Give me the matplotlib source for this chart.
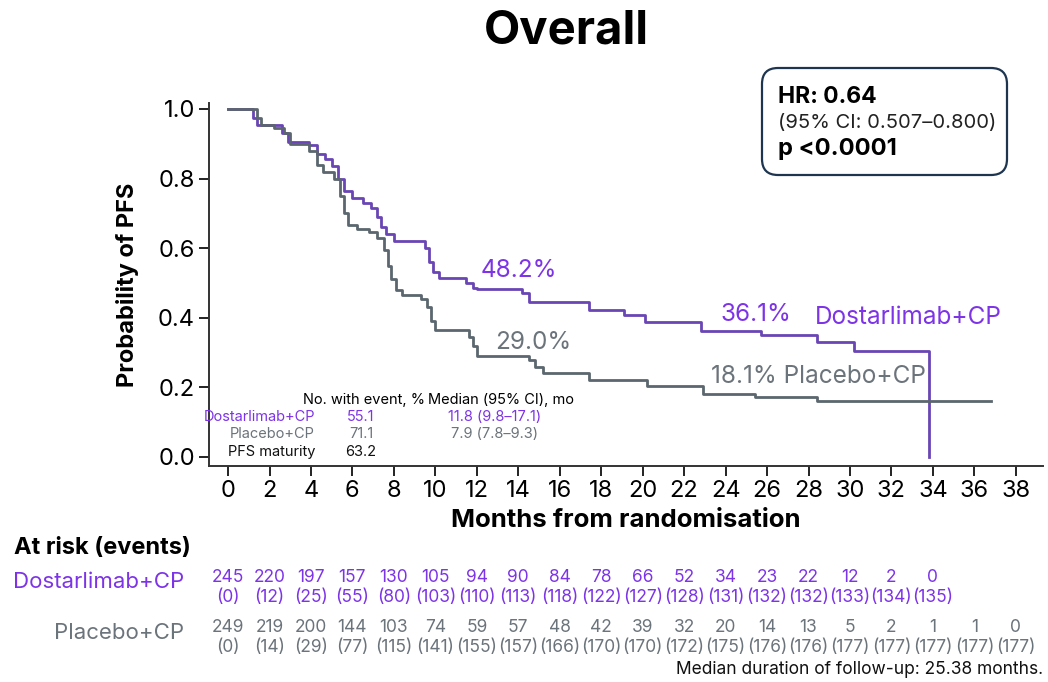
"""Kaplan-Meier PFS plot, overall population."""
import matplotlib.pyplot as plt
import matplotlib.transforms as mtransforms
from matplotlib.patches import FancyBboxPatch

plt.rcParams["font.family"] = ["Inter", "DejaVu Sans"]

PURPLE_TXT = "#7d34e6"
PURPLE_LINE = "#6a45b4"
GRAY_TXT = "#6b737b"
GRAY_LINE = "#5b666e"

# Kaplan-Meier step points (month, survival)
dostar_t = [0, 1.2, 1.4, 2.6, 2.9, 3.9, 4.3, 4.7, 5.0, 5.3, 5.6, 6.0, 6.5, 6.9, 7.2, 7.4, 7.6,
            8.0, 9.5, 9.7, 9.9, 10.2, 11.5, 11.8, 12.0, 14.2, 14.5, 17.4, 19.1, 20.1, 22.8,
            25.7, 28.4, 30.2, 33.8]
dostar_s = [1.0, 0.975, 0.955, 0.93, 0.905, 0.895, 0.87, 0.855, 0.835, 0.80, 0.765, 0.745,
            0.73, 0.715, 0.69, 0.66, 0.64, 0.62, 0.60, 0.56, 0.53, 0.515, 0.50, 0.486, 0.482,
            0.47, 0.446, 0.422, 0.408, 0.388, 0.361, 0.350, 0.331, 0.305, 0.0]
placebo_t = [0, 1.4, 1.6, 2.2, 2.7, 3.0, 3.9, 4.3, 4.6, 5.1, 5.4, 5.6, 5.8, 6.2, 6.8, 7.2,
             7.5, 7.7, 7.85, 8.1, 8.4, 9.3, 9.6, 9.8, 10.0, 11.6, 11.8, 12.0, 14.5, 14.8,
             15.2, 17.4, 20.2, 22.9, 25.4, 28.4, 36.8]
placebo_s = [1.0, 0.975, 0.955, 0.945, 0.93, 0.90, 0.88, 0.84, 0.82, 0.80, 0.75, 0.70, 0.665,
             0.655, 0.645, 0.63, 0.595, 0.55, 0.51, 0.48, 0.465, 0.455, 0.43, 0.39, 0.365,
             0.345, 0.32, 0.290, 0.279, 0.259, 0.241, 0.221, 0.205, 0.181, 0.172, 0.161, 0.161]

# numbers at risk (events) every 2 months
risk_months = list(range(0, 40, 2))
dostar_risk = [245, 220, 197, 157, 130, 105, 94, 90, 84, 78, 66, 52, 34, 23, 22, 12, 2, 0]
dostar_events = [0, 12, 25, 55, 80, 103, 110, 113, 118, 122, 127, 128, 131, 132, 132, 133, 134, 135]
placebo_risk = [249, 219, 200, 144, 103, 74, 59, 57, 48, 42, 39, 32, 20, 14, 13, 5, 2, 1, 1, 0]
placebo_events = [0, 14, 29, 77, 115, 141, 155, 157, 166, 170, 170, 172, 175, 176, 176, 177,
                  177, 177, 177, 177]

# inset summary table
table_rows = ["Dostarlimab+CP", "Placebo+CP", "PFS maturity"]
table_event_pct = ["55.1", "71.1", "63.2"]
table_median = ["11.8 (9.8–17.1)", "7.9 (7.8–9.3)", ""]

fig = plt.figure(figsize=(10.48, 6.82), dpi=100)
ax = fig.add_axes([0.1994, 0.3167, 0.7956, 0.5323])

ax.plot(dostar_t, dostar_s, drawstyle="steps-post", color=PURPLE_LINE, lw=2.0)
ax.plot(placebo_t, placebo_s, drawstyle="steps-post", color=GRAY_LINE, lw=2.0)

ax.set_xlim(-0.92, 39.3)
ax.set_ylim(-0.026, 1.017)
ax.set_xticks(range(0, 40, 2))
ax.set_yticks([0.0, 0.2, 0.4, 0.6, 0.8, 1.0])
ax.set_yticklabels(["0.0", "0.2", "0.4", "0.6", "0.8", "1.0"])
ax.tick_params(axis="both", labelsize=17, length=7, width=1.4, color="#222222", pad=3)
for side in ("top", "right"):
    ax.spines[side].set_visible(False)
for side in ("left", "bottom"):
    ax.spines[side].set_linewidth(1.4)
    ax.spines[side].set_color("#333333")
ax.set_xlabel("Months from randomisation", fontsize=18.5, fontweight="bold", labelpad=5)
ax.set_ylabel("Probability of PFS", fontsize=17, fontweight="bold", labelpad=14)

# curve annotations
ax.text(12.2, 0.537, "48.2%", color=PURPLE_TXT, fontsize=17.5, va="center")
ax.text(12.9, 0.328, "29.0%", color=GRAY_TXT, fontsize=17.5, va="center")
ax.text(23.75, 0.408, "36.1%", color=PURPLE_TXT, fontsize=17.5, va="center")
ax.text(28.3, 0.40, "Dostarlimab+CP", color=PURPLE_TXT, fontsize=17.5, va="center")
ax.text(23.3, 0.23, "18.1% Placebo+CP", color=GRAY_TXT, fontsize=17.5, va="center")


# helpers for placing text by pixel position on the 1048x682 canvas
def fx(px):
    return px / 1048


def fy(py):
    return 1 - py / 682


# summary table inside the axes
fig.text(fx(364), fy(400), "No. with event, %", fontsize=10.5, ha="center", va="center")
fig.text(fx(428), fy(400), "Median (95% CI), mo", fontsize=10.5, ha="left", va="center")
row_colors = [PURPLE_TXT, GRAY_TXT, "#111111"]
for i, (name, pct, med) in enumerate(zip(table_rows, table_event_pct, table_median)):
    y = fy(417 + i * 17.5)
    fig.text(fx(315), y, name, fontsize=10.5, ha="right", va="center", color=row_colors[i])
    fig.text(fx(361), y, pct, fontsize=10.5, ha="center", va="center", color=row_colors[i])
    if med:
        fig.text(fx(495), y, med, fontsize=10.5, ha="center", va="center", color=row_colors[i])

# HR box
box = FancyBboxPatch((7.62, 5.07), 2.45, 1.07, boxstyle="round,pad=0,rounding_size=0.16",
                     transform=fig.dpi_scale_trans, fc="white", ec="#1e3550", lw=1.6)
fig.patches.append(box)
fig.text(fx(778), fy(97), "HR: 0.64", fontsize=16.5, fontweight="bold", va="center")
fig.text(fx(778), fy(123), "(95% CI: 0.507–0.800)", fontsize=14.5, va="center", color="#222222")
fig.text(fx(778), fy(149), "p <0.0001", fontsize=17, fontweight="bold", va="center")

fig.text(fx(566), fy(32), "Overall", fontsize=34, fontweight="bold", ha="center", va="center")

# at-risk table
trans = mtransforms.blended_transform_factory(ax.transData, fig.transFigure)
fig.text(fx(14), fy(548), "At risk (events)", fontsize=17, fontweight="bold", va="center")
fig.text(fx(184), fy(582), "Dostarlimab+CP", fontsize=16, color=PURPLE_TXT, ha="right", va="center")
fig.text(fx(184), fy(633), "Placebo+CP", fontsize=16, color=GRAY_TXT, ha="right", va="center")
for m, n, e in zip(risk_months, dostar_risk, dostar_events):
    ax.text(m, fy(578), str(n), transform=trans, fontsize=12.5, color=PURPLE_TXT,
            ha="center", va="center")
    ax.text(m, fy(598), f"({e})", transform=trans, fontsize=12.5, color=PURPLE_TXT,
            ha="center", va="center")
for m, n, e in zip(risk_months, placebo_risk, placebo_events):
    ax.text(m, fy(628), str(n), transform=trans, fontsize=12.5, color=GRAY_TXT,
            ha="center", va="center")
    ax.text(m, fy(648), f"({e})", transform=trans, fontsize=12.5, color=GRAY_TXT,
            ha="center", va="center")

fig.text(fx(1043), fy(670), "Median duration of follow-up: 25.38 months.", fontsize=12.5,
         ha="right", va="center", color="#111111")

fig.savefig("out.png", dpi=100)
